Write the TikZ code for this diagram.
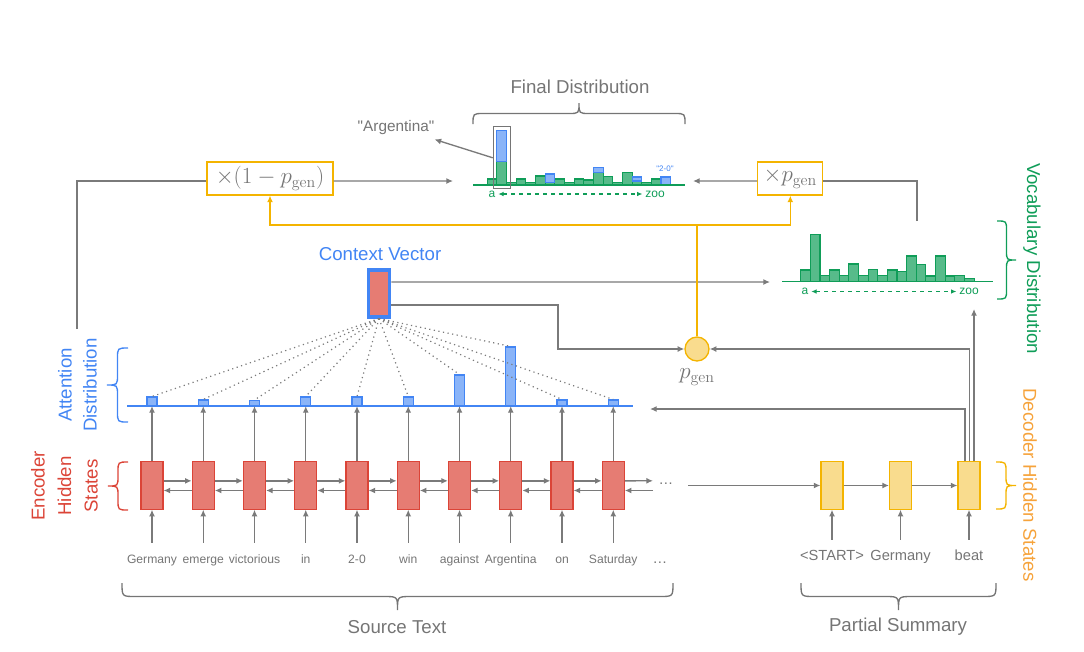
\documentclass[tikz,border=0pt]{standalone}
\usepackage[no-math]{fontspec}
\setmainfont{Liberation Sans}[Ligatures=TeXOff]
\usetikzlibrary{arrows.meta,calc}
\definecolor{tg}{HTML}{757575}
\definecolor{lc}{HTML}{7A7A7A}
\definecolor{gred}{HTML}{DB4437}
\definecolor{redfill}{HTML}{E67C73}
\definecolor{gblue}{HTML}{4285F4}
\definecolor{bluefill}{HTML}{8AB4F8}
\definecolor{ggreen}{HTML}{0F9D58}
\definecolor{greenfill}{HTML}{57BB8A}
\definecolor{gyellow}{HTML}{F4B400}
\definecolor{yfill}{HTML}{F9DC8E}
\definecolor{gorange}{HTML}{F6A33B}
% horizontal brace: colour, x1, x2, y of ends, signed half depth
\newcommand\hbr[5]{%
 \pgfmathsetmacro\bxm{(#2+#3)/2}\pgfmathsetmacro\byb{#4+#5}%
 \pgfmathsetmacro\byc{#4+2*#5}\pgfmathsetmacro\br{min(abs(#5),14)}%
 \draw[#1,line width=1pt] (#2,#4) .. controls (#2,\byb) .. ({#2+\br},\byb) -- ({\bxm-\br},\byb)
   .. controls (\bxm,\byb) .. (\bxm,\byc) .. controls (\bxm,\byb) .. ({\bxm+\br},\byb)
   -- ({#3-\br},\byb) .. controls (#3,\byb) .. (#3,#4);}
% vertical brace: colour, y1, y2, x of ends, signed half depth
\newcommand\vbr[5]{%
 \pgfmathsetmacro\bym{(#2+#3)/2}\pgfmathsetmacro\bxb{#4+#5}%
 \pgfmathsetmacro\bxc{#4+2*#5}\pgfmathsetmacro\br{min(abs(#5),14)}%
 \draw[#1,line width=1pt] (#4,#2) .. controls (\bxb,#2) .. (\bxb,{#2+\br}) -- (\bxb,{\bym-\br})
   .. controls (\bxb,\bym) .. (\bxc,\bym) .. controls (\bxb,\bym) .. (\bxb,{\bym+\br})
   -- (\bxb,{#3-\br}) .. controls (\bxb,#3) .. (#4,#3);}
\tikzset{
 arr/.style={draw=lc, line width=1pt, -{Latex[length=5pt,width=4.5pt]}},
 gl/.style={draw=lc, line width=1pt},
 yl/.style={draw=gyellow, line width=1pt},
 yarr/.style={yl, -{Latex[length=5pt,width=4.5pt]}},
 encbox/.style={draw=gred, fill=redfill, line width=0.8pt, minimum width=16.5pt, minimum height=35.5pt, inner sep=0pt},
 decbox/.style={draw=gyellow, fill=yfill, line width=0.8pt, minimum width=16.5pt, minimum height=35.5pt, inner sep=0pt},
 attbar/.style={draw=gblue, fill=bluefill, line width=0.8pt, minimum width=7.5pt, inner sep=0pt, anchor=south},
 greenbar/.style={draw=ggreen, fill=greenfill, line width=0.8pt},
 bluebar/.style={draw=gblue, fill=bluefill, line width=0.8pt},
 word/.style={text=tg, font=\fontsize{9.1}{11}\selectfont, inner sep=0pt, text height=6.6pt, text depth=1.9pt, anchor=base},
 dword/.style={word, font=\fontsize{11}{13}\selectfont, text height=7.9pt, text depth=2.3pt},
 head/.style={font=\fontsize{14}{17}\selectfont, inner sep=0pt},
 mbox/.style={draw=gyellow, line width=1pt, minimum height=24.75pt, inner sep=0pt, text=tg, font=\fontsize{17}{20}\selectfont},
 small/.style={font=\fontsize{9}{10}\selectfont, inner sep=2pt},
}
\begin{document}
\begin{tikzpicture}[x=0.75pt,y=-0.75pt]
\useasboundingbox (0,0) rectangle (1084,651);

% ---------- encoder, attention, words ----------
\draw[gblue, line width=1pt] (127,406) coordinate (attL) -- (633,406) coordinate (attR);
\foreach \i/\x/\h/\w in {1/152/8.5/Germany, 2/203.25/5.5/emerge, 3/254.5/5/victorious, 4/305.75/8.5/in, 5/357/8.5/2-0, 6/408.25/8.5/win, 7/459.5/30.5/against, 8/510.75/58.5/Argentina, 9/562/5.5/on, 10/613.25/5.5/Saturday} {
  \node[encbox] (e\i) at (\x,485.5) {};
  \node[attbar, minimum height=\h*0.75pt] (a\i) at (\x,406) {};
  \node[word] (w\i) at (\x,563) {\w};
}
\node[word, font=\fontsize{11}{12}\selectfont] (wdots) at (660,563) {…};
\node[text=tg, font=\fontsize{11}{12}\selectfont, inner sep=0pt] (edots) at (666,484) {…};

\node[draw=gblue, fill=redfill, line width=2.6pt, minimum width=16pt, minimum height=35pt, inner sep=0pt] (cv) at (379,293.5) {};
\node[head, text=gblue] (cvl) at (380,254) {Context Vector};

\foreach \i in {1,...,10} {
  \draw[lc, line width=0.9pt, dash pattern=on 0.9pt off 2.6pt] (cv.south) -- (a\i.north);
  \draw[arr] (e\i.north) -- (a\i.south);
  \draw[arr] ([yshift=8.5pt]w\i.north) -- (e\i.south);
}
\foreach \i [evaluate=\i as \j using int(\i+1)] in {1,...,9} {
  \draw[arr] ([yshift=3.5pt]e\i.east) -- ([yshift=3.5pt]e\j.west);
  \draw[arr] ([yshift=-3.75pt]e\j.west) -- ([yshift=-3.75pt]e\i.east);
}
\coordinate (q1) at (653,480.8);
\coordinate (q2) at (653,490.5);
\draw[arr] ([yshift=3.5pt]e10.east) -- (q1);
\draw[arr] (q2) -- ([yshift=-3.75pt]e10.east);

% ---------- decoder ----------
\node[decbox] (d1) at (832,485.5) {};
\node[decbox] (d2) at (900.5,485.5) {};
\node[decbox] (d3) at (969,485.5) {};
\node[dword] (s1) at (832,560) {<START>};
\node[dword] (s2) at (900.5,560) {Germany};
\node[dword] (s3) at (969,560) {beat};
\foreach \i in {1,2,3} \draw[arr] ([yshift=7pt]s\i.north) -- (d\i.south);
\coordinate (encend) at (688,485.5);
\draw[arr] (encend) -- (d1.west);
\draw[arr] (d1.east) -- (d2.west);
\draw[arr] (d2.east) -- (d3.west);

% ---------- p_gen ----------
\node[circle, draw=gyellow, fill=yfill, line width=1pt, minimum size=18pt, inner sep=0pt] (pg) at (697,349) {};
\node[text=tg, font=\fontsize{17}{20}\selectfont, inner sep=0pt] (pgl) at (697,377) {$p_{\mathrm{gen}}$};

\coordinate (attin) at (650,409);
\coordinate (vbot) at (974,309);
\draw[arr] ([xshift=-3pt]d3.north) |- (attin);
\draw[arr] ([xshift=0.4pt]d3.north) |- (pg.east);
\draw[arr] ([xshift=3.75pt]d3.north) -- (vbot);

\coordinate (vin) at (770,282);
\coordinate (cvturn) at (558,330);
\draw[arr] ([yshift=8.6pt]cv.east) -- (vin);
\draw[arr] ([yshift=-8.6pt]cv.east) -| (cvturn) |- (pg.west);

% ---------- multiplier boxes ----------
\node[mbox, minimum width=94.5pt] (m1) at (270,178.4) {$\times(1-p_{\mathrm{gen}})$};
\node[mbox, minimum width=48.75pt] (m2) at (790.3,178.4) {$\times p_{\mathrm{gen}}$};
\coordinate (yj) at (697,225);
\draw[yl] (pg.north) -- (yj);
\draw[yarr] (yj) -| (m1.south);
\draw[yarr] (yj) -| (m2.south);

\coordinate (lfree) at (77,329);
\coordinate (finL) at (453,181);
\coordinate (vtop) at (917,221);
\coordinate (finR) at (693,181);
\draw[gl] (lfree) |- ([yshift=-2pt]m1.west);
\draw[arr] ([yshift=-2pt]m1.east) -- (finL);
\draw[gl] (vtop) |- ([yshift=-2pt]m2.east);
\draw[arr] ([yshift=-2pt]m2.west) -- (finR);

% ---------- final distribution ----------
\foreach \g [count=\k from 0] in {6,23.3,2.7,6,2.7,9,2.7,6,2.7,6,5,12.3,8.3,2.7,12.7,4,2.7,6} {
  \filldraw[greenbar] ({487.3+\k*9.65},185) rectangle ++(9.65,-\g);
}
\foreach \k/\a/\b in {1/161.7/130.3, 6/182.3/174, 11/172.7/167.7, 15/181/177, 18/185/177} {
  \filldraw[bluebar] ({487.3+\k*9.65},\a) rectangle ({487.3+(\k+1)*9.65},\b);
}
\draw[ggreen, line width=1pt] (473,185) -- (685,185);
\node[draw=tg, line width=0.8pt, minimum width=13pt, minimum height=46.7pt, inner sep=0pt] (argbox) at (502,157.8) {};
\node[text=tg, font=\fontsize{11.5}{13}\selectfont, inner sep=1pt] (argl) at (396,128) {"Argentina"};
\draw[arr] (argbox.west) -- ([xshift=-1pt,yshift=-2pt]argl.south east);
\node[text=gblue, font=\fontsize{6}{7}\selectfont, inner sep=0pt] (twoz) at (665,169) {"2-0"};
\node[small, text=ggreen] (fa) at (492,194) {a};
\node[small, text=ggreen] (fz) at (655,194) {zoo};
\draw[ggreen, dashed, line width=0.8pt, {Latex[length=4pt,width=3.5pt]}-{Latex[length=4pt,width=3.5pt]}] (fa) -- (fz);
\hbr{tg}{473}{685}{124}{-10.5}
\node[head, text=tg] (fdl) at (580,87) {Final Distribution};

% ---------- vocabulary distribution ----------
\foreach \g [count=\k from 0] in {11.3,47,5.7,11.3,5.7,17.3,5.7,12,5.7,11.3,9.7,25.3,17,5.3,25.3,5.3,5.7,2.7} {
  \filldraw[greenbar] ({800.7+\k*9.63},281.3) rectangle ++(9.63,-\g);
}
\draw[ggreen, line width=1pt] (782,281.3) -- (993,281.3);
\node[small, text=ggreen] (va) at (805,291.5) {a};
\node[small, text=ggreen] (vz) at (969,291.5) {zoo};
\draw[ggreen, dashed, line width=0.8pt, {Latex[length=4pt,width=3.5pt]}-{Latex[length=4pt,width=3.5pt]}] (va) -- (vz);
\vbr{ggreen}{221}{299}{997}{9.5}
\node[head, text=ggreen, rotate=-90] (vdl) at (1032,258.5) {Vocabulary Distribution};

% ---------- side labels and braces ----------
\vbr{gred}{462}{510}{128}{-10}
\node[head, text=gred, rotate=90, align=center, font=\fontsize{14}{19.9}\selectfont] (encl) at (64.5,486) {Encoder\\Hidden\\States};
\vbr{gblue}{348}{422}{128}{-10.5}
\node[head, text=gblue, rotate=90, align=center, font=\fontsize{14}{18.75}\selectfont] (attl) at (77.5,385) {Attention\\Distribution};
\vbr{gyellow}{462}{509}{996}{10}
\node[head, text=gorange, rotate=-90] (decl) at (1030,485) {Decoder Hidden States};

\hbr{tg}{122}{673}{583}{13.5}
\node[head, text=tg] (srcl) at (397,627) {Source Text};
\hbr{tg}{801}{996}{583}{13.5}
\node[head, text=tg] (psl) at (898,627) {Partial Summary};
\end{tikzpicture}
\end{document}
